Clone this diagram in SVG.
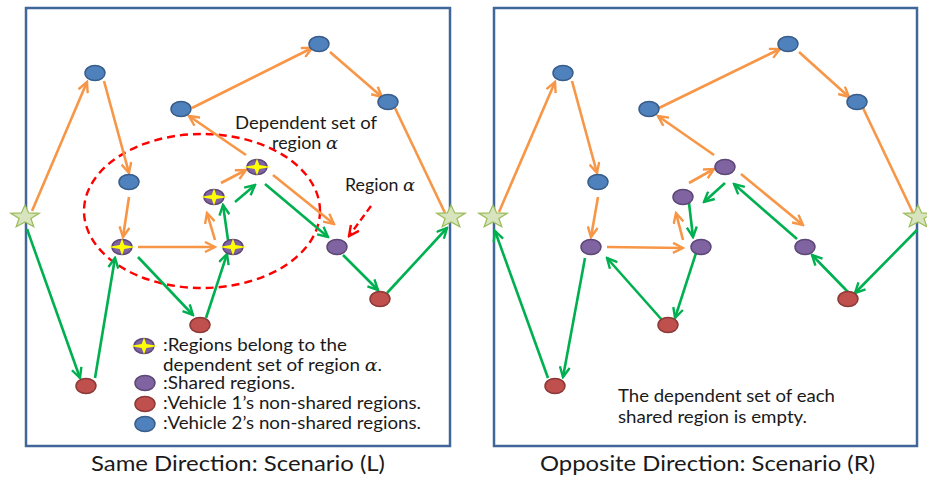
<svg xmlns="http://www.w3.org/2000/svg" xmlns:xlink="http://www.w3.org/1999/xlink" width="927" height="478" viewBox="0 0 927 478">
<style>
.panel{fill:#fff;stroke:#41679a;stroke-width:2.5}
.o{stroke:#f79646;stroke-width:2.6;fill:none;marker-end:url(#ao)}
.on{stroke:#f79646;stroke-width:2.6;fill:none}
.g{stroke:#00b050;stroke-width:2.6;fill:none;marker-end:url(#ag)}
.t{font-family:Lato,"Open Sans","Liberation Sans",sans-serif;font-size:16.5px;fill:#1a1a1a}
.cap{font-family:Lato,"Open Sans","Liberation Sans",sans-serif;font-size:21px;fill:#1a1a1a}
.al{font-family:"DejaVu Serif","Liberation Serif",serif;font-style:italic}
</style>
<defs>
<marker id="ao" viewBox="0 0 13 12" refX="11" refY="6" markerWidth="13" markerHeight="12" markerUnits="userSpaceOnUse" orient="auto"><path d="M1,1 L11,6 L1,11" fill="none" stroke="#f79646" stroke-width="2.4"/></marker>
<marker id="ag" viewBox="0 0 13 12" refX="11" refY="6" markerWidth="13" markerHeight="12" markerUnits="userSpaceOnUse" orient="auto"><path d="M1,1 L11,6 L1,11" fill="none" stroke="#00b050" stroke-width="2.4"/></marker>
<marker id="ar" viewBox="0 0 13 12" refX="11" refY="6" markerWidth="13" markerHeight="12" markerUnits="userSpaceOnUse" orient="auto"><path d="M1,1 L11,6 L1,11" fill="none" stroke="#ff0000" stroke-width="2.4"/></marker>
<ellipse id="blue" cx="0" cy="0" rx="10" ry="7.5" fill="#4f81bd" stroke="#385d8a" stroke-width="1.5"/>
<ellipse id="purple" cx="0" cy="0" rx="10" ry="7.5" fill="#8064a2" stroke="#5c4776" stroke-width="1.5"/>
<ellipse id="red" cx="0" cy="0" rx="10" ry="7.5" fill="#c0504d" stroke="#8c3836" stroke-width="1.5"/>
<g id="sp"><ellipse cx="0" cy="0" rx="10" ry="7.5" fill="#8064a2" stroke="#5c4776" stroke-width="1.5"/><path d="M0,-8.5 L2.3,-2 L14,0 L2.3,2 L0,8.5 L-2.3,2 L-14,0 L-2.3,-2 Z" fill="#ffff00"/></g>
<polygon id="star" points="0,-12 3.68,-4.05 14.26,-3.71 5.95,1.55 8.81,9.71 0,5 -8.81,9.71 -5.95,1.55 -14.26,-3.71 -3.68,-4.05" fill="#d7e4bd" stroke="#9bbb59" stroke-width="1.2"/>
</defs>
<rect width="927" height="478" fill="#fff"/>
<rect class="panel" x="26" y="8" width="424" height="438"/>
<rect class="panel" x="494" y="8" width="423" height="438"/>

<ellipse cx="202" cy="211" rx="118" ry="77" fill="none" stroke="#ff0000" stroke-width="2.4" stroke-dasharray="8,5"/>

<g id="connectors">
<line class="o" x1="32" y1="211" x2="87" y2="82"/>
<line class="o" x1="104" y1="81" x2="129" y2="173"/>
<line class="o" x1="129" y1="197" x2="123" y2="237"/>
<line class="o" x1="138" y1="247" x2="215" y2="247"/>
<line class="o" x1="215" y1="240" x2="207" y2="213"/>
<line class="o" x1="221" y1="183" x2="246" y2="170"/>
<line class="o" x1="246" y1="155" x2="189" y2="116"/>
<line class="o" x1="192" y1="108" x2="312" y2="48"/>
<line class="o" x1="330" y1="52" x2="382" y2="97"/>
<line class="on" x1="395" y1="108" x2="445" y2="213"/>
<line class="o" x1="273" y1="175" x2="334" y2="224"/>
<line class="g" x1="27" y1="229" x2="80" y2="378"/>
<line class="g" x1="95" y1="378" x2="115" y2="258"/>
<line class="g" x1="138" y1="257" x2="193" y2="315"/>
<line class="g" x1="206" y1="318" x2="227" y2="254"/>
<line class="g" x1="228" y1="240" x2="223" y2="205"/>
<line class="g" x1="235" y1="202" x2="255" y2="185"/>
<line class="g" x1="265" y1="184" x2="328" y2="237"/>
<line class="g" x1="343" y1="255" x2="378" y2="290"/>
<line class="g" x1="387" y1="293" x2="447" y2="228"/>
<line x1="371" y1="206" x2="349" y2="236" stroke="#ff0000" stroke-width="2.4" stroke-dasharray="7,4" marker-end="url(#ar)"/>

<line class="o" x1="499" y1="212" x2="555" y2="82"/>
<line class="o" x1="572" y1="81" x2="597" y2="173"/>
<line class="o" x1="598" y1="197" x2="591" y2="237"/>
<line class="o" x1="607" y1="247" x2="683" y2="248"/>
<line class="o" x1="683" y1="240" x2="676" y2="213"/>
<line class="o" x1="689" y1="183" x2="714" y2="169"/>
<line class="o" x1="714" y1="155" x2="658" y2="116"/>
<line class="o" x1="659" y1="108" x2="780" y2="49"/>
<line class="o" x1="799" y1="52" x2="849" y2="97"/>
<line class="on" x1="863" y1="108" x2="913" y2="213"/>
<line class="o" x1="741" y1="174" x2="803" y2="225"/>
<line class="g" x1="548" y1="378" x2="495" y2="231"/>
<line class="g" x1="585" y1="258" x2="563" y2="377"/>
<line class="g" x1="662" y1="320" x2="607" y2="258"/>
<line class="g" x1="696" y1="253" x2="675" y2="318"/>
<line class="g" x1="689" y1="203" x2="693" y2="237"/>
<line class="g" x1="725" y1="183" x2="704" y2="202"/>
<line class="g" x1="797" y1="239" x2="734" y2="184"/>
<line class="g" x1="848" y1="292" x2="812" y2="255"/>
<line class="g" x1="917" y1="230" x2="855" y2="293"/>
</g>

<g id="L-A"><use xlink:href="#blue" x="95" y="73"/></g>
<g id="L-B"><use xlink:href="#blue" x="129" y="182"/></g>
<g id="L-C"><use xlink:href="#blue" x="181" y="109"/></g>
<g id="L-D"><use xlink:href="#blue" x="319" y="44"/></g>
<g id="L-E"><use xlink:href="#blue" x="388" y="102"/></g>
<g id="L-F"><use xlink:href="#sp" x="257" y="167"/></g>
<g id="L-G"><use xlink:href="#sp" x="214" y="197"/></g>
<g id="L-H"><use xlink:href="#sp" x="122" y="247"/></g>
<g id="L-I"><use xlink:href="#sp" x="233" y="247"/></g>
<g id="L-J"><use xlink:href="#purple" x="337" y="247"/></g>
<g id="L-K"><use xlink:href="#red" x="86" y="386"/></g>
<g id="L-L"><use xlink:href="#red" x="200" y="325"/></g>
<g id="L-M"><use xlink:href="#red" x="380" y="299"/></g>
<g id="L-start"><use xlink:href="#star" x="25" y="217"/></g>
<g id="L-end"><use xlink:href="#star" x="451" y="217"/></g>

<g id="R-A"><use xlink:href="#blue" x="563" y="73"/></g>
<g id="R-B"><use xlink:href="#blue" x="598" y="182"/></g>
<g id="R-C"><use xlink:href="#blue" x="649" y="109"/></g>
<g id="R-D"><use xlink:href="#blue" x="788" y="44"/></g>
<g id="R-E"><use xlink:href="#blue" x="857" y="102"/></g>
<g id="R-F"><use xlink:href="#purple" x="725" y="167"/></g>
<g id="R-G"><use xlink:href="#purple" x="683" y="197"/></g>
<g id="R-H"><use xlink:href="#purple" x="591" y="247"/></g>
<g id="R-I"><use xlink:href="#purple" x="701" y="247"/></g>
<g id="R-J"><use xlink:href="#purple" x="805" y="247"/></g>
<g id="R-K"><use xlink:href="#red" x="555" y="386"/></g>
<g id="R-L"><use xlink:href="#red" x="668" y="325"/></g>
<g id="R-M"><use xlink:href="#red" x="848" y="299"/></g>
<g id="R-start"><use xlink:href="#star" x="493" y="217"/></g>
<g id="R-end"><use xlink:href="#star" x="918" y="217"/></g>

<g id="labels">
<text class="t" x="235" y="129" textLength="142" lengthAdjust="spacingAndGlyphs">Dependent set of</text>
<text class="t" x="272" y="149" textLength="66" lengthAdjust="spacingAndGlyphs">region <tspan class="al">α</tspan></text>
<text class="t" x="345" y="191" textLength="70" lengthAdjust="spacingAndGlyphs">Region <tspan class="al">α</tspan></text>
</g>

<g id="legend">
<use xlink:href="#sp" x="144" y="346"/>
<use xlink:href="#purple" x="145" y="383"/>
<use xlink:href="#red" x="145" y="404"/>
<use xlink:href="#blue" x="145" y="424"/>
<text class="t" x="163" y="351" textLength="184" lengthAdjust="spacingAndGlyphs">:Regions belong to the</text>
<text class="t" x="163" y="371" textLength="219" lengthAdjust="spacingAndGlyphs">dependent set of region <tspan class="al">α</tspan>.</text>
<text class="t" x="163" y="389" textLength="132" lengthAdjust="spacingAndGlyphs">:Shared regions.</text>
<text class="t" x="163" y="409" textLength="258" lengthAdjust="spacingAndGlyphs">:Vehicle 1’s non-shared regions.</text>
<text class="t" x="163" y="429" textLength="258" lengthAdjust="spacingAndGlyphs">:Vehicle 2’s non-shared regions.</text>
</g>

<text class="t" x="618" y="402" textLength="217" lengthAdjust="spacingAndGlyphs">The dependent set of each</text>
<text class="t" x="618" y="423" textLength="189" lengthAdjust="spacingAndGlyphs">shared region is empty.</text>

<text class="cap" x="91" y="471" textLength="294" lengthAdjust="spacingAndGlyphs">Same Direction: Scenario (L)</text>
<text class="cap" x="540" y="471" textLength="335" lengthAdjust="spacingAndGlyphs">Opposite Direction: Scenario (R)</text>
</svg>
